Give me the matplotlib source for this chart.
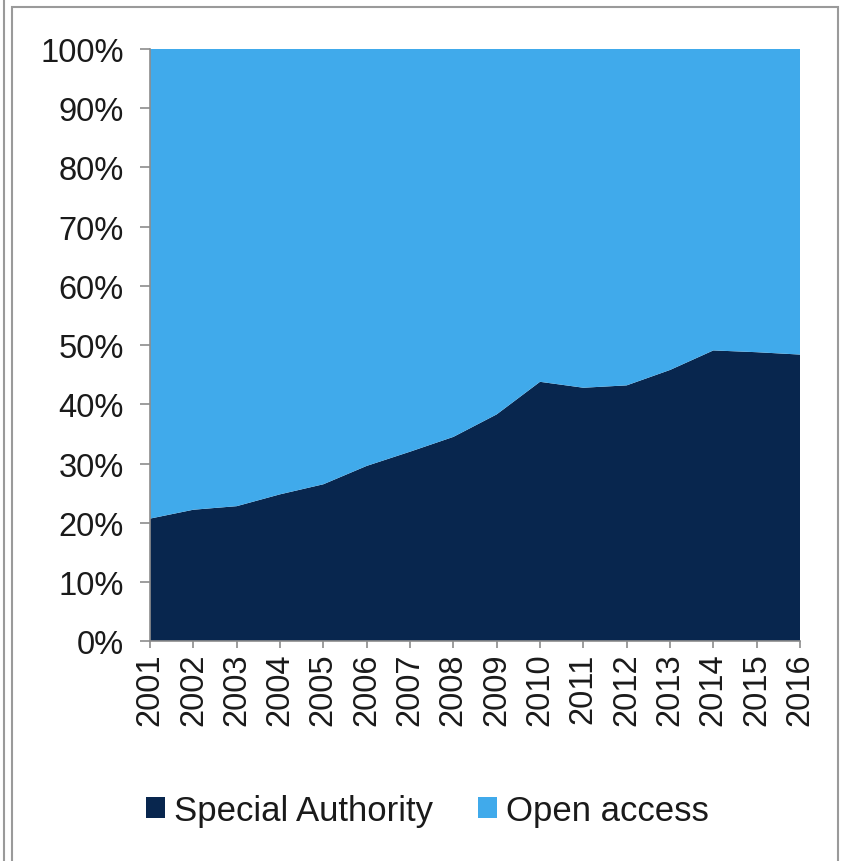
import numpy as np
import matplotlib
matplotlib.use("Agg")
import matplotlib.pyplot as plt
from matplotlib.patches import Rectangle, Patch
from matplotlib.lines import Line2D

years = [str(y) for y in range(2001, 2017)]
special_authority = [20.7, 22.2, 22.8, 24.8, 26.5, 29.6, 32.0, 34.5, 38.3,
                     43.8, 42.8, 43.2, 45.8, 49.1, 48.8, 48.4]
open_access = [100 - v for v in special_authority]
series_names = ["Special Authority", "Open access"]
colors = ["#08264E", "#40AAEB"]

plt.rcParams['font.family'] = ['Liberation Sans', 'DejaVu Sans']

fig = plt.figure(figsize=(8.43, 8.62), dpi=100)
ax = fig.add_axes([0.178, 0.255, 0.771, 0.687])

x = np.arange(len(years))
ax.stackplot(x, special_authority, open_access, colors=colors, linewidth=0)

ax.set_xlim(0, len(years) - 1)
ax.set_ylim(0, 100)
ax.set_yticks(range(0, 101, 10))
ax.set_yticklabels([f"{v}%" for v in range(0, 101, 10)], fontsize=23.5, color="#1a1a1a")
ax.set_xticks(x)
ax.set_xticklabels(years, rotation=90, fontsize=23.5, color="#1a1a1a")

for side in ["top", "right"]:
    ax.spines[side].set_visible(False)
for side in ["left", "bottom"]:
    ax.spines[side].set_color("#8c8c8c")
    ax.spines[side].set_linewidth(1.2)
ax.tick_params(axis="y", length=7, width=1.2, color="#8c8c8c", pad=12)
ax.tick_params(axis="x", length=5, width=1.2, color="#8c8c8c", pad=3)

handles = [Patch(facecolor=c, edgecolor="none") for c in colors]
leg = fig.legend(handles, series_names, loc="center", bbox_to_anchor=(0.507, 0.059),
                 ncol=2, frameon=False, fontsize=25, handlelength=0.55,
                 handleheight=0.55, handletextpad=0.25, columnspacing=1.3)
for t in leg.get_texts():
    t.set_color("#1a1a1a")

# chart frame
fig.patches.append(Rectangle((12 / 843, -0.01), 826 / 843, 1 - 8 / 862 + 0.01,
                             transform=fig.transFigure, fill=False,
                             edgecolor="#9a9a9a", linewidth=1.5))
fig.lines.append(Line2D([4 / 843, 4 / 843], [0, 1], transform=fig.transFigure,
                        color="#9a9a9a", linewidth=1.5))

fig.savefig("out.png", dpi=100, facecolor="white")
